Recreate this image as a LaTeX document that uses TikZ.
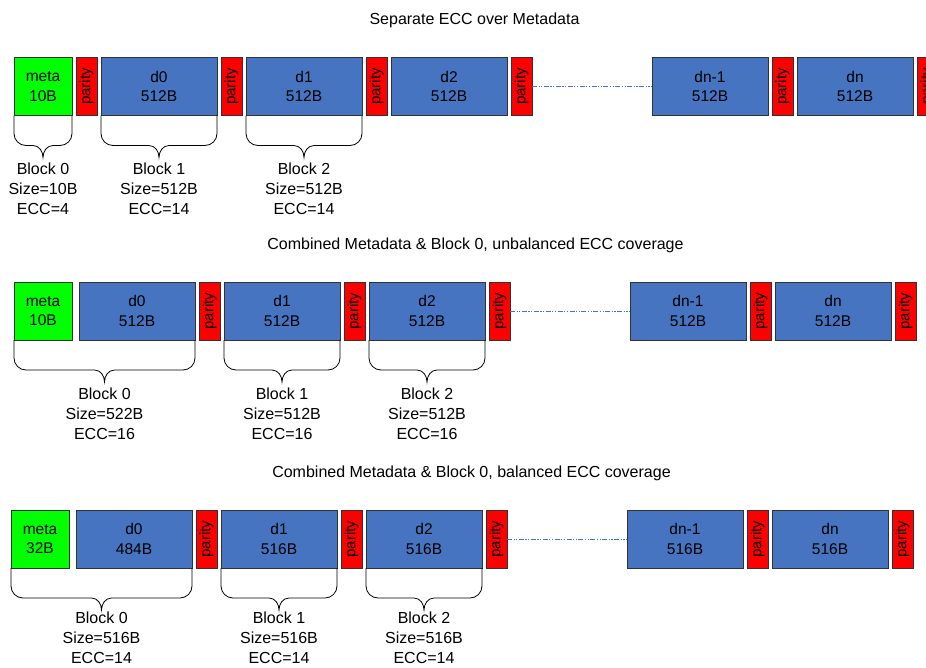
\documentclass[tikz,border=0pt]{standalone}
\usepackage{fontspec}
\setmainfont{Liberation Sans}
\usepackage{xcolor}
\usepackage{tikz}
\usetikzlibrary{positioning,calc}

\definecolor{metagreen}{RGB}{0,255,0}
\definecolor{datablue}{RGB}{70,116,193}
\definecolor{parityred}{RGB}{255,0,0}
\definecolor{edgegray}{RGB}{50,50,50}

% brace under a block: [label gap], left node, right node, label name, label text
\newcommand{\blockbrace}[5][5.5pt]{%
  \coordinate (#4-l) at (#2.south west);
  \coordinate (#4-r) at (#3.south east);
  \coordinate (#4-m) at ($(#4-l)!0.5!(#4-r)+(0,-42)$);
  \draw[bracepath] (#4-l) -- ++(0,-18) arc[start angle=180,end angle=270,radius=12pt]
    -- ($(#4-m)+(-10,12)$) to[out=0,in=90] (#4-m) to[out=90,in=180] ($(#4-m)+(10,12)$)
    -- ($(#4-r)+(-12,-30)$) arc[start angle=270,end angle=360,radius=12pt] -- (#4-r);
  \node[blocklabel, below=#1 of #4-m] (#4) {#5};
}

\begin{document}
\begin{tikzpicture}[x=1pt, y=1pt,
  box/.style={draw=edgegray, line width=0.8pt, outer sep=0pt, inner sep=0pt, minimum height=58pt, align=center, font=\fontsize{15.5}{19.5}\selectfont},
  metabox/.style={box, fill=metagreen, minimum width=58pt},
  databox/.style={box, fill=datablue, minimum width=116pt},
  paritybox/.style={box, fill=parityred, minimum width=21pt, font=\fontsize{15}{18}\selectfont},
  gapline/.style={draw=datablue, line width=1pt, dash pattern=on 5pt off 1.5pt on 1.2pt off 1.5pt on 1.2pt off 1.5pt},
  bracepath/.style={draw=black, line width=0.8pt},
  blocklabel/.style={align=center, inner sep=0pt, font=\fontsize{16}{20}\selectfont},
  rowtitle/.style={font=\fontsize{16}{19}\selectfont, inner sep=0pt}]
  \clip (0,0) rectangle (926,-667);
  \fill[white] (0,0) rectangle (926,-667);

  % separate ECC
  \node[rowtitle] (t1) at (474.5,-20.7) {Separate ECC over Metadata};
  \node[metabox] (r1meta) at (43,-86.5) {meta\\10B};
  \node[paritybox, right=4pt of r1meta] (r1p0) {\rotatebox{90}{parity}};
  \node[databox, right=4pt of r1p0] (r1d0) {d0\\512B};
  \node[paritybox, right=4pt of r1d0] (r1p1) {\rotatebox{90}{parity}};
  \node[databox, right=4pt of r1p1] (r1d1) {d1\\512B};
  \node[paritybox, right=4pt of r1d1] (r1p2) {\rotatebox{90}{parity}};
  \node[databox, right=4pt of r1p2] (r1d2) {d2\\512B};
  \node[paritybox, right=4pt of r1d2] (r1p3) {\rotatebox{90}{parity}};
  \node[databox, right=120pt of r1p3] (r1dm) {dn-1\\512B};
  \node[paritybox, right=4pt of r1dm] (r1p4) {\rotatebox{90}{parity}};
  \node[databox, right=4pt of r1p4] (r1dn) {dn\\512B};
  \node[paritybox, right=4pt of r1dn] (r1p5) {\rotatebox{90}{parity}};
  \draw[gapline] (r1p3) -- (r1dm);
  \blockbrace{r1meta}{r1meta}{r1b0}{Block 0\\Size=10B\\ECC=4}
  \blockbrace{r1d0}{r1d0}{r1b1}{Block 1\\Size=512B\\ECC=14}
  \blockbrace{r1d1}{r1d1}{r1b2}{Block 2\\Size=512B\\ECC=14}

  % combined, unbalanced
  \node[rowtitle] (t2) at (475.5,-245) {Combined Metadata \& Block 0, unbalanced ECC coverage};
  \node[metabox] (r2meta) at (43,-311) {meta\\10B};
  \node[databox, right=7pt of r2meta] (r2d0) {d0\\512B};
  \node[paritybox, right=4pt of r2d0] (r2p1) {\rotatebox{90}{parity}};
  \node[databox, right=4pt of r2p1] (r2d1) {d1\\512B};
  \node[paritybox, right=4pt of r2d1] (r2p2) {\rotatebox{90}{parity}};
  \node[databox, right=4pt of r2p2] (r2d2) {d2\\512B};
  \node[paritybox, right=4pt of r2d2] (r2p3) {\rotatebox{90}{parity}};
  \node[databox, right=120pt of r2p3] (r2dm) {dn-1\\512B};
  \node[paritybox, right=4pt of r2dm] (r2p4) {\rotatebox{90}{parity}};
  \node[databox, right=4pt of r2p4] (r2dn) {dn\\512B};
  \node[paritybox, right=4pt of r2dn] (r2p5) {\rotatebox{90}{parity}};
  \draw[gapline] (r2p3) -- (r2dm);
  \blockbrace{r2meta}{r2d0}{r2b0}{Block 0\\Size=522B\\ECC=16}
  \blockbrace{r2d1}{r2d1}{r2b1}{Block 1\\Size=512B\\ECC=16}
  \blockbrace{r2d2}{r2d2}{r2b2}{Block 2\\Size=512B\\ECC=16}

  % combined, balanced
  \node[rowtitle] (t3) at (471.5,-473.7) {Combined Metadata \& Block 0, balanced ECC coverage};
  \node[metabox] (r3meta) at (40,-539) {meta\\32B};
  \node[databox, right=7pt of r3meta] (r3d0) {d0\\484B};
  \node[paritybox, right=4pt of r3d0] (r3p1) {\rotatebox{90}{parity}};
  \node[databox, right=4pt of r3p1] (r3d1) {d1\\516B};
  \node[paritybox, right=4pt of r3d1] (r3p2) {\rotatebox{90}{parity}};
  \node[databox, right=4pt of r3p2] (r3d2) {d2\\516B};
  \node[paritybox, right=4pt of r3d2] (r3p3) {\rotatebox{90}{parity}};
  \node[databox, right=120pt of r3p3] (r3dm) {dn-1\\516B};
  \node[paritybox, right=4pt of r3dm] (r3p4) {\rotatebox{90}{parity}};
  \node[databox, right=4pt of r3p4] (r3dn) {dn\\516B};
  \node[paritybox, right=4pt of r3dn] (r3p5) {\rotatebox{90}{parity}};
  \draw[gapline] (r3p3) -- (r3dm);
  \blockbrace[1.5pt]{r3meta}{r3d0}{r3b0}{Block 0\\Size=516B\\ECC=14}
  \blockbrace[1.5pt]{r3d1}{r3d1}{r3b1}{Block 1\\Size=516B\\ECC=14}
  \blockbrace[1.5pt]{r3d2}{r3d2}{r3b2}{Block 2\\Size=516B\\ECC=14}
\end{tikzpicture}
\end{document}
